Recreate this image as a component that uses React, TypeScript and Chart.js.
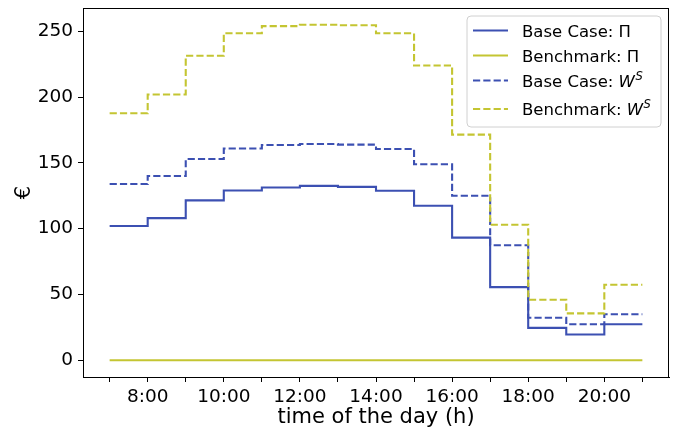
import { useEffect, useRef } from 'react';
import { Chart, registerables } from 'chart.js';

Chart.register(...registerables);

// hours of the day (step-post: each value holds from hour h to h+1)
const hours = [7, 8, 9, 10, 11, 12, 13, 14, 15, 16, 17, 18, 19, 20, 21];
const baseCaseProfit = [102, 108, 121.5, 129, 131.3, 132.5, 131.8, 128.8, 117.4, 93.2, 55.6, 24.6, 19.6, 27.4];
const benchmarkProfit = [0, 0, 0, 0, 0, 0, 0, 0, 0, 0, 0, 0, 0, 0];
const baseCaseWelfare = [134, 140, 153, 161, 163.6, 164.4, 163.9, 160.6, 149, 125, 87.4, 32.3, 27.4, 35];
const benchmarkWelfare = [187.7, 202, 231.4, 248.5, 254, 255, 254.6, 248.5, 224, 171.5, 103, 46, 35.6, 57.4];

const xTickValues = [7, 8, 9, 10, 11, 12, 13, 14, 15, 16, 17, 18, 19, 20, 21];
const xTickLabels = ['', '8:00', '', '10:00', '', '12:00', '', '14:00', '', '16:00', '', '18:00', '', '20:00', ''];
const yTickValues = [0, 50, 100, 150, 200, 250];

const seriesNames = ['Base Case: Π', 'Benchmark: Π', 'Base Case: W', 'Benchmark: W'];
const seriesSup = ['', '', 'S', 'S'];

const BLUE = '#3c50b2';
const OLIVE = '#c4c532';
const FONT = '"DejaVu Sans", sans-serif';
const DASH = [7.2, 3.1];

function toPoints(values: number[]) {
  const pts = values.map((v, i) => ({ x: hours[i], y: v }));
  pts.push({ x: hours[values.length], y: values[values.length - 1] });
  return pts;
}

const framePlugin = {
  id: 'frame',
  afterDraw(chart: any) {
    const { ctx, chartArea } = chart;
    ctx.save();
    ctx.strokeStyle = '#000';
    ctx.lineWidth = 1;
    ctx.strokeRect(
      Math.round(chartArea.left) + 0.5,
      Math.round(chartArea.top) + 0.5,
      Math.round(chartArea.right - chartArea.left) - 1,
      Math.round(chartArea.bottom - chartArea.top)
    );
    ctx.restore();
  },
};

const legendPlugin = {
  id: 'mplLegend',
  afterDraw(chart: any) {
    const { ctx, chartArea } = chart;
    const w = 194;
    const h = 111;
    const x0 = chartArea.right - 8 - w;
    const y0 = chartArea.top + 8;
    ctx.save();
    ctx.beginPath();
    const r = 4;
    ctx.moveTo(x0 + r, y0);
    ctx.arcTo(x0 + w, y0, x0 + w, y0 + h, r);
    ctx.arcTo(x0 + w, y0 + h, x0, y0 + h, r);
    ctx.arcTo(x0, y0 + h, x0, y0, r);
    ctx.arcTo(x0, y0, x0 + w, y0, r);
    ctx.closePath();
    ctx.fillStyle = 'rgba(255,255,255,0.8)';
    ctx.fill();
    ctx.strokeStyle = '#d0d0d0';
    ctx.lineWidth = 1;
    ctx.stroke();

    const lineYs = [14.5, 39.5, 64.5, 93];
    const baseYs = [20.5, 45.5, 70.5, 98.5];
    const datasets = chart.data.datasets;
    for (let i = 0; i < seriesNames.length; i++) {
      const ds = datasets[i];
      ctx.beginPath();
      ctx.strokeStyle = ds.borderColor;
      ctx.lineWidth = ds.borderWidth;
      ctx.setLineDash(ds.borderDash || []);
      ctx.moveTo(x0 + 6, y0 + lineYs[i]);
      ctx.lineTo(x0 + 41, y0 + lineYs[i]);
      ctx.stroke();
      ctx.setLineDash([]);
      ctx.fillStyle = '#000';
      ctx.textBaseline = 'alphabetic';
      ctx.textAlign = 'left';
      let tx = x0 + 55;
      const ty = y0 + baseYs[i];
      if (seriesSup[i]) {
        ctx.font = `16.5px ${FONT}`;
        const prefix = seriesNames[i].slice(0, -1);
        ctx.fillText(prefix, tx, ty);
        tx += ctx.measureText(prefix).width;
        ctx.font = `oblique 16.5px ${FONT}`;
        ctx.fillText('W', tx, ty);
        tx += ctx.measureText('W').width;
        ctx.font = `oblique 11.5px ${FONT}`;
        ctx.fillText(seriesSup[i], tx + 0.5, ty - 6.5);
      } else {
        ctx.font = `16.5px ${FONT}`;
        ctx.fillText(seriesNames[i], tx, ty);
      }
    }
    ctx.restore();
  },
};

export default function App() {
  const ref = useRef<HTMLCanvasElement | null>(null);

  useEffect(() => {
    if (!ref.current) return;
    const chart = new Chart(ref.current, {
      type: 'line',
      data: {
        datasets: [
          { label: seriesNames[0], data: toPoints(baseCaseProfit), borderColor: BLUE, borderWidth: 2.1, stepped: true, pointRadius: 0, fill: false, order: 3 },
          { label: seriesNames[1], data: toPoints(benchmarkProfit), borderColor: OLIVE, borderWidth: 2.1, stepped: true, pointRadius: 0, fill: false, order: 2 },
          { label: seriesNames[2] + seriesSup[2], data: toPoints(baseCaseWelfare), borderColor: BLUE, borderWidth: 2.1, borderDash: DASH, stepped: true, pointRadius: 0, fill: false, order: 1 },
          { label: seriesNames[3] + seriesSup[3], data: toPoints(benchmarkWelfare), borderColor: OLIVE, borderWidth: 2.1, borderDash: DASH, stepped: true, pointRadius: 0, fill: false, order: 0 },
        ] as any,
      },
      options: {
        animation: false,
        responsive: false,
        maintainAspectRatio: false,
        layout: { padding: { left: 0, right: 9, top: 8, bottom: 0 } },
        plugins: { legend: { display: false }, tooltip: { enabled: false } },
        scales: {
          x: {
            type: 'linear',
            min: 6.3,
            max: 21.7,
            afterBuildTicks: (scale: any) => {
              scale.ticks = xTickValues.map((v) => ({ value: v }));
            },
            afterFit: (scale: any) => {
              scale.height = 58;
              scale.paddingLeft = 0;
              scale.paddingRight = 0;
            },
            grid: { display: true, drawOnChartArea: false, drawTicks: true, tickLength: 5, color: '#000', lineWidth: 1 },
            border: { display: true, color: '#000', width: 1 },
            ticks: {
              autoSkip: false,
              maxRotation: 0,
              padding: 4,
              color: '#000',
              font: { family: FONT, size: 18.5 },
              callback: (value: any) => {
                const i = xTickValues.indexOf(Number(value));
                return i >= 0 ? xTickLabels[i] : '';
              },
            },
            title: { display: true, text: 'time of the day (h)', color: '#000', font: { family: FONT, size: 21 }, padding: { top: 0, bottom: 5 } },
          },
          y: {
            type: 'linear',
            min: -12.75,
            max: 267.75,
            afterBuildTicks: (scale: any) => {
              scale.ticks = yTickValues.map((v) => ({ value: v }));
            },
            afterFit: (scale: any) => {
              scale.width = 83;
              scale.paddingTop = 0;
              scale.paddingBottom = 0;
            },
            grid: { display: true, drawOnChartArea: false, drawTicks: true, tickLength: 5, color: '#000', lineWidth: 1 },
            border: { display: true, color: '#000', width: 1 },
            ticks: {
              padding: 5,
              color: '#000',
              font: { family: FONT, size: 18.5 },
              callback: (value: any) => String(value),
            },
            title: { display: true, text: '€', color: '#000', font: { family: FONT, size: 21 }, padding: { top: 12, bottom: 0 } },
          },
        },
      },
      plugins: [framePlugin, legendPlugin],
    });
    return () => chart.destroy();
  }, []);

  return (
    <div style={{ position: 'absolute', left: 0, top: 0, width: 678, height: 435, background: '#fff' }}>
      <canvas ref={ref} width={678} height={435} style={{ width: 678, height: 435, display: 'block' }} />
    </div>
  );
}
